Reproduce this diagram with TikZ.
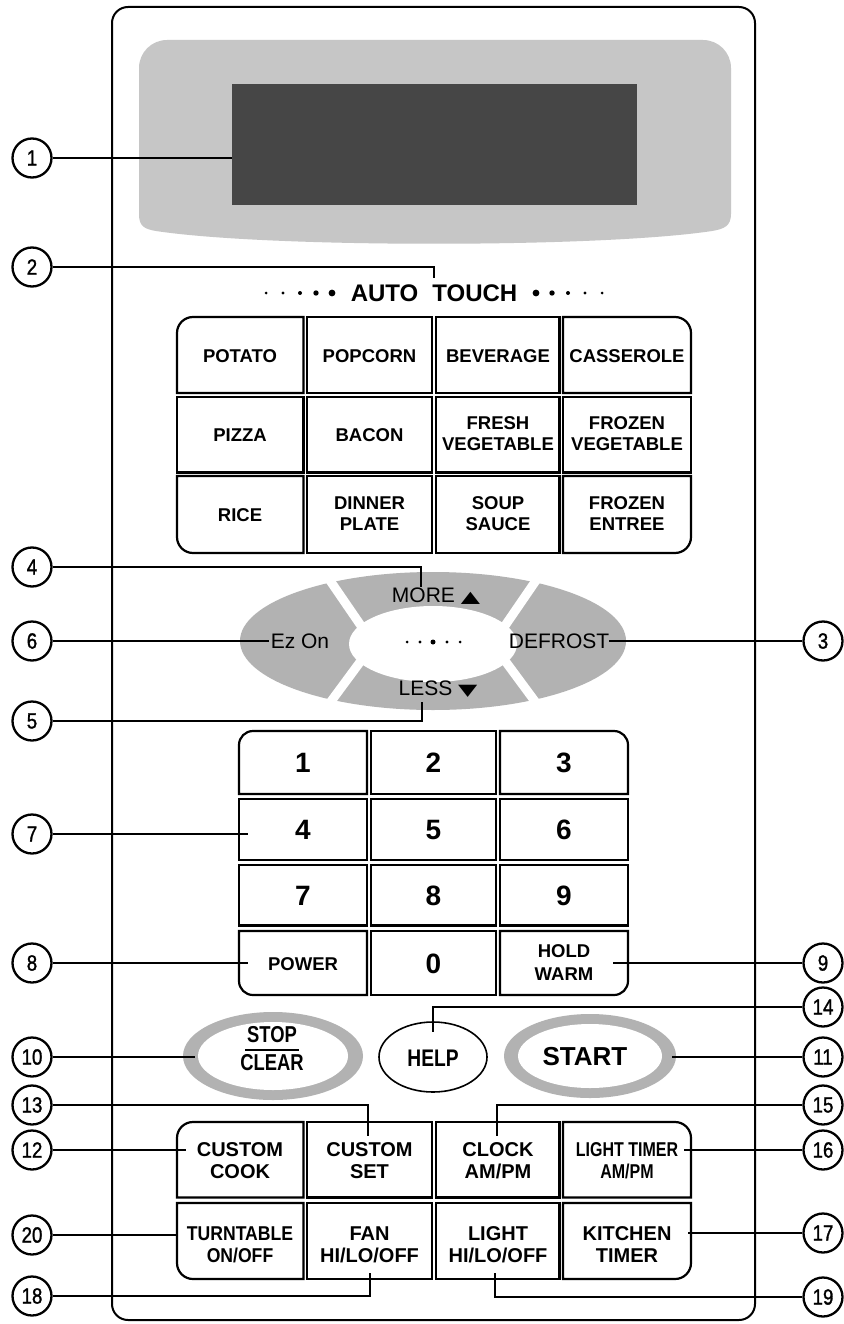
\documentclass[tikz,border=0pt]{standalone}
\usepackage{fontspec}
\setmainfont{Liberation Sans}
\newfontfamily\dv{DejaVu Sans}
\newfontfamily\narrowf[FakeStretch=0.88]{Liberation Sans}
\newfontfamily\condf[FakeStretch=0.8]{Liberation Sans}
\newfontfamily\circf[FakeStretch=0.85,FakeBold=1.3]{Liberation Sans}
\definecolor{dispgray}{HTML}{C6C6C6}
\definecolor{darkdisp}{HTML}{464646}
\definecolor{ringgray}{HTML}{B2B2B2}
\tikzset{
  lbl/.style={circle, draw, line width=2.3pt, minimum size=39pt, inner sep=0pt, fill=white, font=\circf\fontsize{22}{22}\selectfont},
  lead/.style={line width=2pt},
  frame/.style={line width=2.2pt},
  rc/.style={rounded corners=16pt},
  rk/.style={rounded corners=14pt},
  sc/.style={sharp corners},
  keyA/.style={inner sep=0pt, align=center, font=\bfseries\fontsize{18.5}{21}\selectfont},
  keyB/.style={inner sep=0pt, align=center, font=\bfseries\fontsize{20}{22}\selectfont},
  num/.style={inner sep=0pt, font=\bfseries\fontsize{28}{28}\selectfont},
  ovl/.style={inner sep=0pt, font=\fontsize{21}{21}\selectfont},
}
\newcommand\gbox[8]{%
  \draw[frame] (#1,{(#2+#4)/2}) [#5] -- (#1,#2) -- ({(#1+#3)/2},#2) [#6] -- (#3,#2) -- (#3,{(#2+#4)/2}) [#7] -- (#3,#4) -- ({(#1+#3)/2},#4) [#8] -- (#1,#4) -- cycle;}
\newcommand\tri[1]{{\dv\fontsize{20}{20}\selectfont\scalebox{1.25}[0.8]{#1}}}
\begin{document}
\begin{tikzpicture}[x=1pt,y=-1pt]
\useasboundingbox (0,0) rectangle (843,1324);
\fill[white] (0,0) rectangle (843,1324);
% panel
\draw[line width=2pt, rounded corners=16pt] (112,7) rectangle (755,1320);
% display
\fill[dispgray] (139,214) [rounded corners=28pt] -- (139,40) -- (731,40) -- (731,150) [sharp corners] -- (731,214)
  .. controls (731,226) and (724,229) .. (712,231) .. controls (600,248) and (268,248) .. (156,231)
  .. controls (144,229) and (139,226) .. (139,214) -- cycle;
\fill[darkdisp] (232,84) rectangle (637,205);
% auto touch title
\node[inner sep=0pt, font=\bfseries\fontsize{24}{24}\selectfont] (auto) at (434,293) {AUTO\hspace{14pt}TOUCH};
\foreach \x/\r in {266/1.5,283/1.7,300/2.0,316/2.7,332/3.4} \fill (\x,293) circle[radius=\r pt];
\foreach \x/\r in {536/3.4,552/2.7,568/2.0,585/1.7,602/1.5} \fill (\x,293) circle[radius=\r pt];
% auto touch grid
\gbox{177}{317}{303.5}{393}{rc}{sc}{sc}{sc}
\gbox{307}{317}{432}{393}{sc}{sc}{sc}{sc}
\gbox{436}{317}{559.5}{393}{sc}{sc}{sc}{sc}
\gbox{563}{317}{691}{393}{sc}{rc}{sc}{sc}
\gbox{177}{397}{303.5}{472.5}{sc}{sc}{sc}{sc}
\gbox{307}{397}{432}{472.5}{sc}{sc}{sc}{sc}
\gbox{436}{397}{559.5}{472.5}{sc}{sc}{sc}{sc}
\gbox{563}{397}{691}{472.5}{sc}{sc}{sc}{sc}
\gbox{177}{476}{303.5}{553}{sc}{sc}{sc}{rc}
\gbox{307}{476}{432}{553}{sc}{sc}{sc}{sc}
\gbox{436}{476}{559.5}{553}{sc}{sc}{sc}{sc}
\gbox{563}{476}{691}{553}{sc}{sc}{rc}{sc}
\node[keyA] (potato) at (240,356) {POTATO};
\node[keyA] (popcorn) at (369.5,356) {POPCORN};
\node[keyA] (beverage) at (498,356) {BEVERAGE};
\node[keyA] (casserole) at (627,356) {CASSEROLE};
\node[keyA] (pizza) at (240,435) {PIZZA};
\node[keyA] (bacon) at (369.5,435) {BACON};
\node[keyA] (fresh) at (498,434) {FRESH\\VEGETABLE};
\node[keyA] (frozenveg) at (627,434) {FROZEN\\VEGETABLE};
\node[keyA] (rice) at (240,515) {RICE};
\node[keyA] (dinner) at (369.5,514) {DINNER\\PLATE};
\node[keyA] (soup) at (498,514) {SOUP\\SAUCE};
\node[keyA] (entree) at (627,514) {FROZEN\\ENTREE};
% more/less oval
\fill[ringgray] (433,641) ellipse [x radius=193pt, y radius=69pt];
\fill[white] (433,644) ellipse [x radius=84pt, y radius=38pt];
\draw[white, line width=9pt] (318,563) -- (366,633);
\draw[white, line width=9pt] (548,563) -- (500,633);
\draw[white, line width=9pt] (318,719) -- (366,654);
\draw[white, line width=9pt] (548,719) -- (500,654);
\node[ovl] (more) at (436,596) {MORE \tri{▲}};
\node[ovl] (less) at (438,689) {LESS \tri{▼}};
\node[ovl] (ezon) at (300,641) {Ez On};
\node[ovl] (defrost) at (559,641) {DEFROST};
\foreach \x/\r in {407/1.5,420/1.7,433/2.5,447/1.7,460/1.5} \fill (\x,642) circle[radius=\r pt];
% keypad
\gbox{239}{731}{367}{794}{rk}{sc}{sc}{sc}
\gbox{371}{731}{496}{794}{sc}{sc}{sc}{sc}
\gbox{500}{731}{628}{794}{sc}{rk}{sc}{sc}
\gbox{239}{799}{367}{860}{sc}{sc}{sc}{sc}
\gbox{371}{799}{496}{860}{sc}{sc}{sc}{sc}
\gbox{500}{799}{628}{860}{sc}{sc}{sc}{sc}
\gbox{239}{865}{367}{925.5}{sc}{sc}{sc}{sc}
\gbox{371}{865}{496}{925.5}{sc}{sc}{sc}{sc}
\gbox{500}{865}{628}{925.5}{sc}{sc}{sc}{sc}
\gbox{239}{931}{367}{995}{sc}{sc}{sc}{rk}
\gbox{371}{931}{496}{995}{sc}{sc}{sc}{sc}
\gbox{500}{931}{628}{995}{sc}{sc}{rk}{sc}
\node[num] (k1) at (303,763) {1};
\node[num] (k2) at (433.5,763) {2};
\node[num] (k3) at (564,763) {3};
\node[num] (k4) at (303,830) {4};
\node[num] (k5) at (433.5,830) {5};
\node[num] (k6) at (564,830) {6};
\node[num] (k7) at (303,896) {7};
\node[num] (k8) at (433.5,896) {8};
\node[num] (k9) at (564,896) {9};
\node[keyA] (power) at (303,964) {POWER};
\node[num] (k0) at (433.5,964) {0};
\node[keyA, font=\bfseries\fontsize{18.5}{23}\selectfont] (hold) at (564,963) {HOLD\\WARM};
% stop / help / start
\fill[ringgray] (273,1056) ellipse [x radius=90pt, y radius=44pt];
\fill[white] (273,1056) ellipse [x radius=75pt, y radius=34pt];
\node[inner sep=0pt, font=\condf\bfseries\fontsize{23}{23}\selectfont] (stop) at (272,1035) {STOP};
\draw[line width=2pt] (245,1050) -- (299,1050);
\node[inner sep=0pt, font=\condf\bfseries\fontsize{23}{23}\selectfont] (clear) at (272,1063) {CLEAR};
\draw[line width=1.6pt, fill=white] (433,1057) ellipse [x radius=54pt, y radius=35pt];
\node[inner sep=0pt, font=\condf\bfseries\fontsize{24}{24}\selectfont] (help) at (433,1058) {HELP};
\fill[ringgray] (590,1056) ellipse [x radius=86pt, y radius=42pt];
\fill[white] (590,1056) ellipse [x radius=72pt, y radius=32pt];
\node[inner sep=0pt, font=\bfseries\fontsize{26}{26}\selectfont] (start) at (585,1057) {START};
% bottom grid
\gbox{177}{1122}{303.5}{1197.5}{rc}{sc}{sc}{sc}
\gbox{307}{1122}{432}{1197.5}{sc}{sc}{sc}{sc}
\gbox{436}{1122}{559.5}{1197.5}{sc}{sc}{sc}{sc}
\gbox{563}{1122}{691}{1197.5}{sc}{rc}{sc}{sc}
\gbox{177}{1203}{303.5}{1279}{sc}{sc}{sc}{rc}
\gbox{307}{1203}{432}{1279}{sc}{sc}{sc}{sc}
\gbox{436}{1203}{559.5}{1279}{sc}{sc}{sc}{sc}
\gbox{563}{1203}{691}{1279}{sc}{sc}{rc}{sc}
\node[keyB] (ccook) at (240,1161) {CUSTOM\\COOK};
\node[keyB] (cset) at (369.5,1161) {CUSTOM\\SET};
\node[keyB] (clock) at (498,1161) {CLOCK\\AM/PM};
\node[keyB, font=\condf\bfseries\fontsize{20}{22}\selectfont] (ltimer) at (627,1161) {LIGHT TIMER\\AM/PM};
\node[keyB, font=\narrowf\bfseries\fontsize{20}{22}\selectfont] (turn) at (240,1245) {TURNTABLE\\ON/OFF};
\node[keyB] (fan) at (369.5,1245) {FAN\\HI/LO/OFF};
\node[keyB] (light) at (498,1245) {LIGHT\\HI/LO/OFF};
\node[keyB] (kitchen) at (627,1245) {KITCHEN\\TIMER};
% callout circles
\node[lbl] (c1) at (32,158) {1};
\node[lbl] (c2) at (32,267) {2};
\node[lbl] (c4) at (32,567) {4};
\node[lbl] (c6) at (32,641) {6};
\node[lbl] (c5) at (32,721) {5};
\node[lbl] (c7) at (32,834) {7};
\node[lbl] (c8) at (32,963) {8};
\node[lbl] (c10) at (32,1057) {10};
\node[lbl] (c13) at (32,1105) {13};
\node[lbl] (c12) at (32,1150) {12};
\node[lbl] (c20) at (32,1235) {20};
\node[lbl] (c18) at (32,1296) {18};
\node[lbl] (c3) at (823,641) {3};
\node[lbl] (c9) at (823,963) {9};
\node[lbl] (c14) at (823,1007) {14};
\node[lbl] (c11) at (823,1057) {11};
\node[lbl] (c15) at (823,1105) {15};
\node[lbl] (c16) at (823,1150) {16};
\node[lbl] (c17) at (823,1233) {17};
\node[lbl] (c19) at (823,1297) {19};
% leader end points
\coordinate (t1) at (232,158);
\coordinate (t2) at (434,278);
\coordinate (t4) at (421,587);
\coordinate (t6) at (269,641);
\coordinate (t3) at (609,641);
\coordinate (t5) at (422,702);
\coordinate (t7) at (248,834);
\coordinate (t8) at (248,963);
\coordinate (t9) at (613,963);
\coordinate (t14) at (433,1032);
\coordinate (t10) at (195,1057);
\coordinate (t11) at (672,1057);
\coordinate (t13) at (368,1136);
\coordinate (t15) at (497,1136);
\coordinate (t12) at (186,1150);
\coordinate (t16) at (684,1150);
\coordinate (t20) at (178,1235);
\coordinate (t17) at (688,1233);
\coordinate (t18) at (370,1273);
\coordinate (t19) at (495,1273);
% leaders
\draw[lead] (c1) -- (t1);
\draw[lead] (c2) -- (c2 -| t2) -- (t2);
\draw[lead] (c4) -- (c4 -| t4) -- (t4);
\draw[lead] (c6) -- (t6);
\draw[lead] (c3) -- (t3);
\draw[lead] (c5) -- (c5 -| t5) -- (t5);
\draw[lead] (c7) -- (t7);
\draw[lead] (c8) -- (t8);
\draw[lead] (c9) -- (t9);
\draw[lead] (c14) -- (c14 -| t14) -- (t14);
\draw[lead] (c10) -- (t10);
\draw[lead] (c11) -- (t11);
\draw[lead] (c13) -- (c13 -| t13) -- (t13);
\draw[lead] (c15) -- (c15 -| t15) -- (t15);
\draw[lead] (c12) -- (t12);
\draw[lead] (c16) -- (t16);
\draw[lead] (c20) -- (t20);
\draw[lead] (c17) -- (t17);
\draw[lead] (c18) -- (c18 -| t18) -- (t18);
\draw[lead] (c19) -- (c19 -| t19) -- (t19);
\end{tikzpicture}
\end{document}
